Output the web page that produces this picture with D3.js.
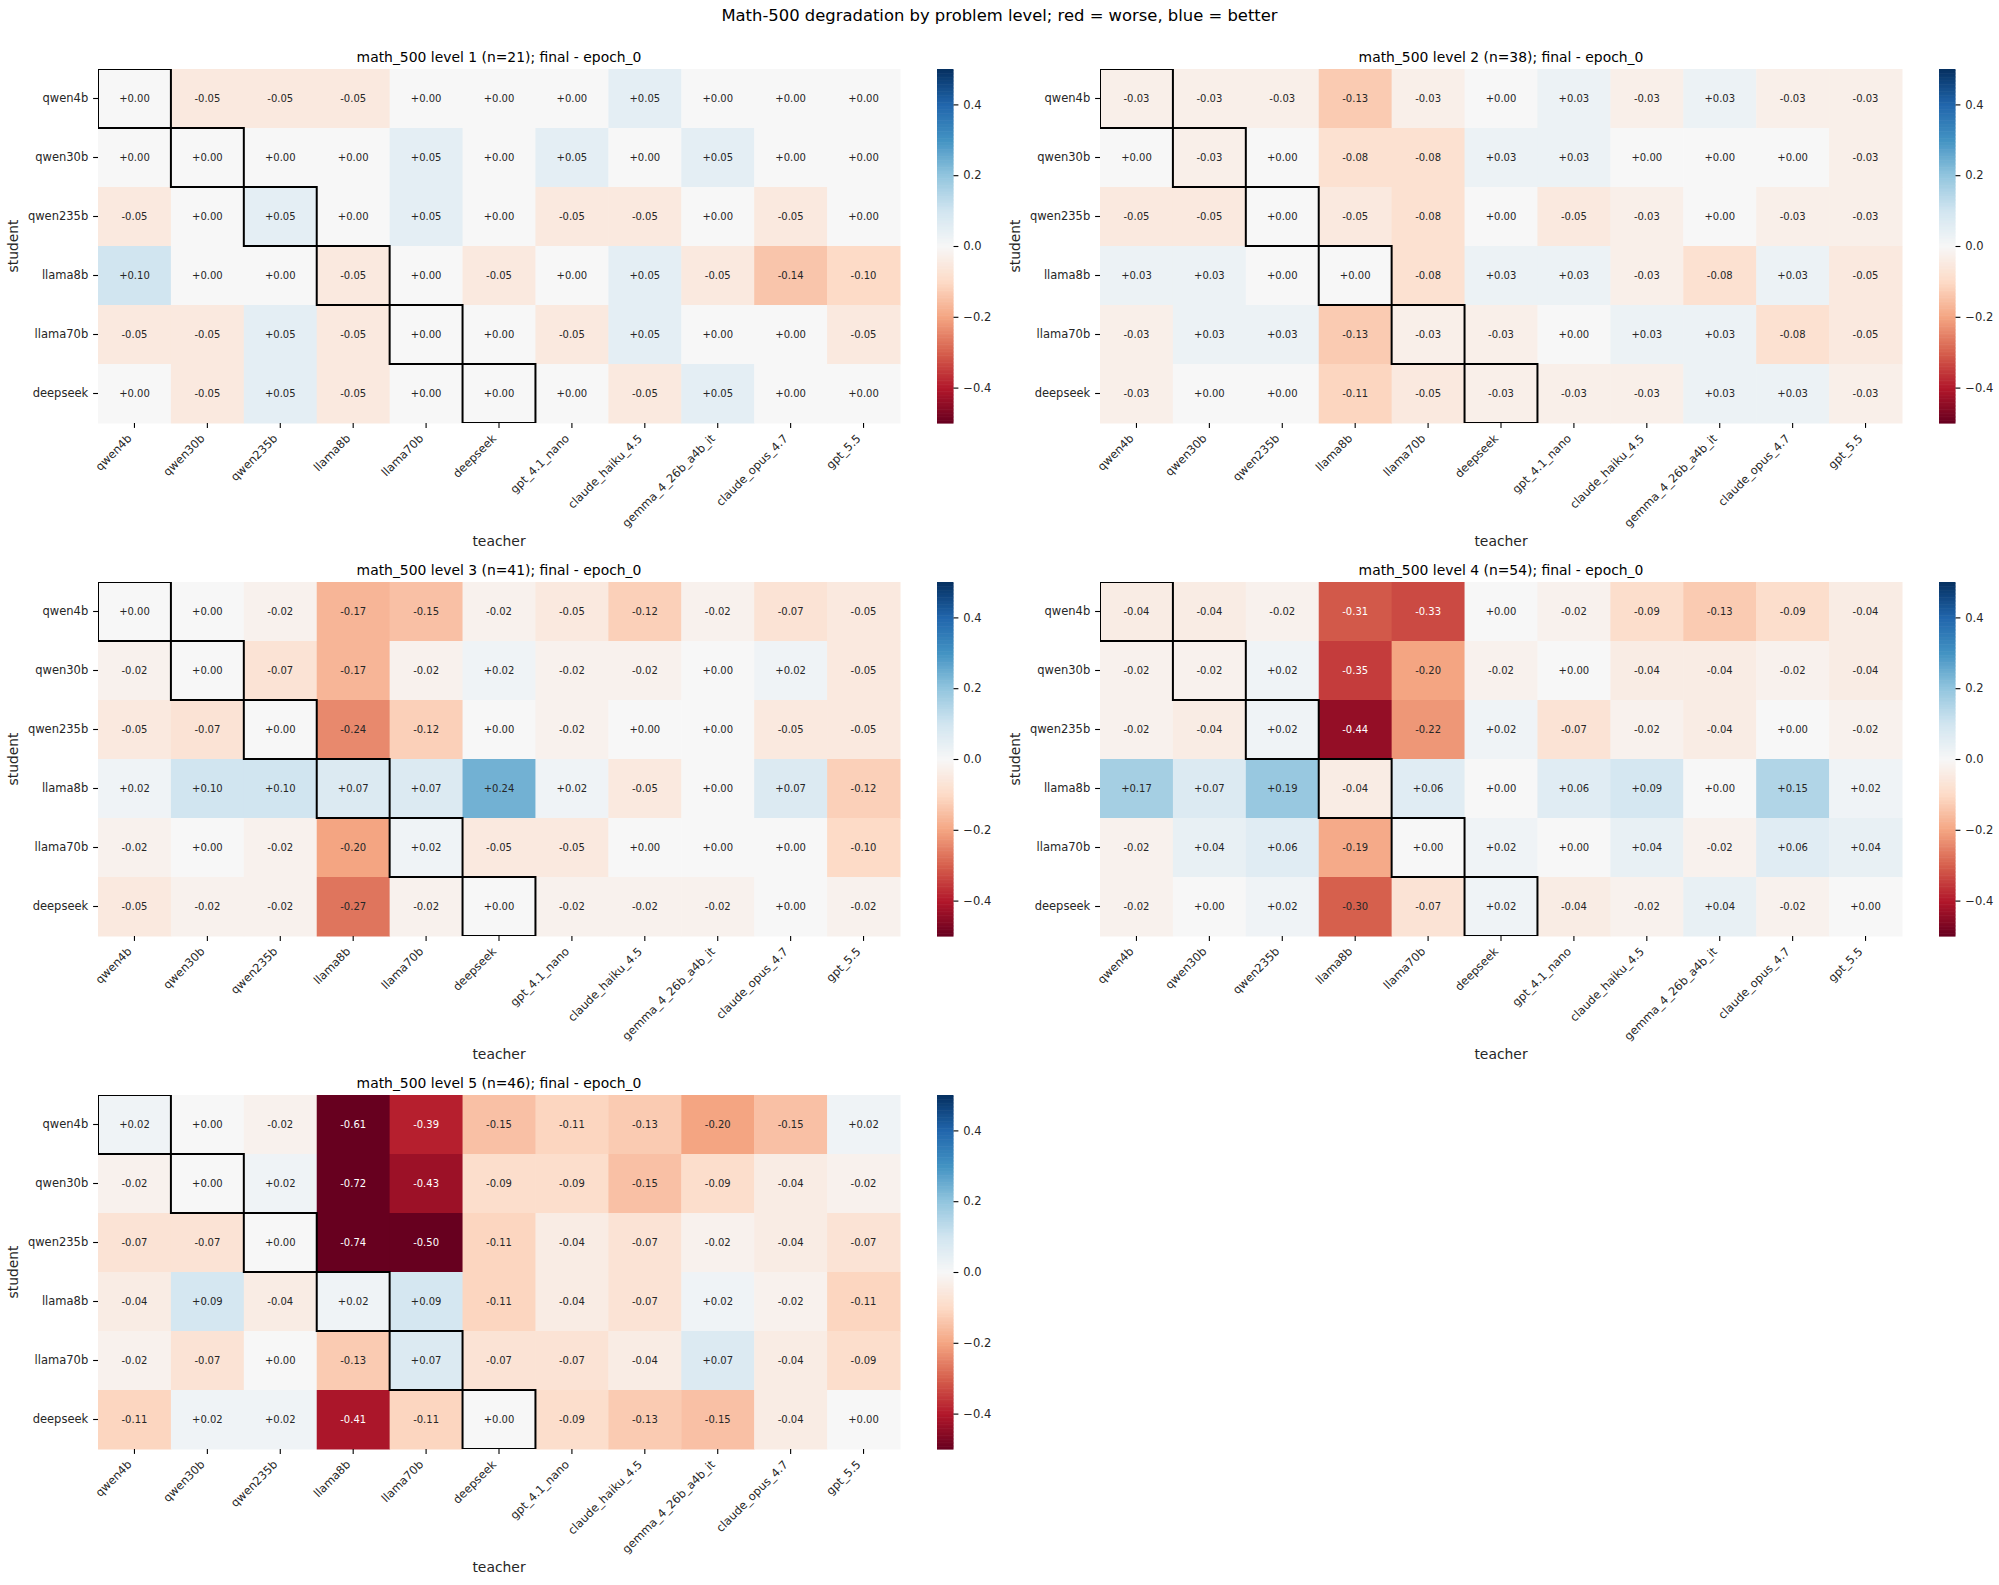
<!DOCTYPE html>
<html>
<head>
<meta charset="utf-8">
<script src="https://cdn.jsdelivr.net/npm/d3@7"></script>
<style>
  html, body { margin: 0; padding: 0; background: #fff; }
  svg { display: block; font-family: "DejaVu Sans", sans-serif; }
</style>
</head>
<body>
<svg id="chart" width="1999" height="1585"></svg>
<script>
// ---------------- data ----------------
const suptitle = "Math-500 degradation by problem level; red = worse, blue = better";
const teachers = ["qwen4b","qwen30b","qwen235b","llama8b","llama70b","deepseek","gpt_4.1_nano","claude_haiku_4.5","gemma_4_26b_a4b_it","claude_opus_4.7","gpt_5.5"];
const students = ["qwen4b","qwen30b","qwen235b","llama8b","llama70b","deepseek"];
const panelTitles = [
  "math_500 level 1 (n=21); final - epoch_0",
  "math_500 level 2 (n=38); final - epoch_0",
  "math_500 level 3 (n=41); final - epoch_0",
  "math_500 level 4 (n=54); final - epoch_0",
  "math_500 level 5 (n=46); final - epoch_0"
];
const level1 = [
  [ 0.00,-0.05,-0.05,-0.05, 0.00, 0.00, 0.00, 0.05, 0.00, 0.00, 0.00],
  [ 0.00, 0.00, 0.00, 0.00, 0.05, 0.00, 0.05, 0.00, 0.05, 0.00, 0.00],
  [-0.05, 0.00, 0.05, 0.00, 0.05, 0.00,-0.05,-0.05, 0.00,-0.05, 0.00],
  [ 0.10, 0.00, 0.00,-0.05, 0.00,-0.05, 0.00, 0.05,-0.05,-0.14,-0.10],
  [-0.05,-0.05, 0.05,-0.05, 0.00, 0.00,-0.05, 0.05, 0.00, 0.00,-0.05],
  [ 0.00,-0.05, 0.05,-0.05, 0.00, 0.00, 0.00,-0.05, 0.05, 0.00, 0.00]
];
const level2 = [
  [-0.03,-0.03,-0.03,-0.13,-0.03, 0.00, 0.03,-0.03, 0.03,-0.03,-0.03],
  [ 0.00,-0.03, 0.00,-0.08,-0.08, 0.03, 0.03, 0.00, 0.00, 0.00,-0.03],
  [-0.05,-0.05, 0.00,-0.05,-0.08, 0.00,-0.05,-0.03, 0.00,-0.03,-0.03],
  [ 0.03, 0.03, 0.00, 0.00,-0.08, 0.03, 0.03,-0.03,-0.08, 0.03,-0.05],
  [-0.03, 0.03, 0.03,-0.13,-0.03,-0.03, 0.00, 0.03, 0.03,-0.08,-0.05],
  [-0.03, 0.00, 0.00,-0.11,-0.05,-0.03,-0.03,-0.03, 0.03, 0.03,-0.03]
];
const level3 = [
  [ 0.00, 0.00,-0.02,-0.17,-0.15,-0.02,-0.05,-0.12,-0.02,-0.07,-0.05],
  [-0.02, 0.00,-0.07,-0.17,-0.02, 0.02,-0.02,-0.02, 0.00, 0.02,-0.05],
  [-0.05,-0.07, 0.00,-0.24,-0.12, 0.00,-0.02, 0.00, 0.00,-0.05,-0.05],
  [ 0.02, 0.10, 0.10, 0.07, 0.07, 0.24, 0.02,-0.05, 0.00, 0.07,-0.12],
  [-0.02, 0.00,-0.02,-0.20, 0.02,-0.05,-0.05, 0.00, 0.00, 0.00,-0.10],
  [-0.05,-0.02,-0.02,-0.27,-0.02, 0.00,-0.02,-0.02,-0.02, 0.00,-0.02]
];
const level4 = [
  [-0.04,-0.04,-0.02,-0.31,-0.33, 0.00,-0.02,-0.09,-0.13,-0.09,-0.04],
  [-0.02,-0.02, 0.02,-0.35,-0.20,-0.02, 0.00,-0.04,-0.04,-0.02,-0.04],
  [-0.02,-0.04, 0.02,-0.44,-0.22, 0.02,-0.07,-0.02,-0.04, 0.00,-0.02],
  [ 0.17, 0.07, 0.19,-0.04, 0.06, 0.00, 0.06, 0.09, 0.00, 0.15, 0.02],
  [-0.02, 0.04, 0.06,-0.19, 0.00, 0.02, 0.00, 0.04,-0.02, 0.06, 0.04],
  [-0.02, 0.00, 0.02,-0.30,-0.07, 0.02,-0.04,-0.02, 0.04,-0.02, 0.00]
];
const level5 = [
  [ 0.02, 0.00,-0.02,-0.61,-0.39,-0.15,-0.11,-0.13,-0.20,-0.15, 0.02],
  [-0.02, 0.00, 0.02,-0.72,-0.43,-0.09,-0.09,-0.15,-0.09,-0.04,-0.02],
  [-0.07,-0.07, 0.00,-0.74,-0.50,-0.11,-0.04,-0.07,-0.02,-0.04,-0.07],
  [-0.04, 0.09,-0.04, 0.02, 0.09,-0.11,-0.04,-0.07, 0.02,-0.02,-0.11],
  [-0.02,-0.07, 0.00,-0.13, 0.07,-0.07,-0.07,-0.04, 0.07,-0.04,-0.09],
  [-0.11, 0.02, 0.02,-0.41,-0.11, 0.00,-0.09,-0.13,-0.15,-0.04, 0.00]
];
const levels = [level1, level2, level3, level4, level5];
const colorbarTicks = [-0.4, -0.2, 0.0, 0.2, 0.4];
const vmin = -0.5, vmax = 0.5;

// ---------------- style / layout ----------------
const rdbu = ["#67001f","#b2182b","#d6604d","#f4a582","#fddbc7","#f7f7f7","#d1e5f0","#92c5de","#4393c3","#2166ac","#053061"];
const color = d3.scaleLinear()
  .domain(d3.range(rdbu.length).map(i => vmin + i * (vmax - vmin) / (rdbu.length - 1)))
  .range(rdbu).interpolate(d3.interpolateRgb).clamp(true);

const colX = [98, 1100];
const rowY = [69, 582, 1095];
const W = 802, H = 354;
const cbGap = 37, cbW = 16.5;
const tickLen = 4.9, tickPad = 4.9;
const tickFont = 11.5;
const textCol = "#262626";
const annFmt = d3.formatLocale({decimal: ".", thousands: ",", grouping: [3], currency: ["", ""], minus: "-"}).format("+.2f");
const cbFmt = d3.format(".1f");

const svg = d3.select("#chart");
svg.append("rect").attr("width", 1999).attr("height", 1585).attr("fill", "#fff");

svg.append("text")
  .attr("x", 999.5).attr("y", 21)
  .attr("text-anchor", "middle")
  .attr("font-size", 16.4)
  .attr("fill", "#000")
  .text(suptitle);

levels.forEach((data, k) => {
  const ox = colX[k % 2], oy = rowY[Math.floor(k / 2)];
  const g = svg.append("g").attr("transform", `translate(${ox},${oy})`);

  const x = d3.scaleBand().domain(teachers).range([0, W]).padding(0);
  const y = d3.scaleBand().domain(students).range([0, H]).padding(0);

  const cells = [];
  data.forEach((row, i) => row.forEach((v, j) => cells.push({s: students[i], t: teachers[j], v})));

  g.append("g").selectAll("rect").data(cells).join("rect")
    .attr("x", d => x(d.t)).attr("y", d => y(d.s))
    .attr("width", x.bandwidth() + 0.5).attr("height", y.bandwidth() + 0.5)
    .attr("fill", d => color(d.v));

  g.append("g").selectAll("text").data(cells).join("text")
    .attr("x", d => x(d.t) + x.bandwidth() / 2)
    .attr("y", d => y(d.s) + y.bandwidth() / 2)
    .attr("text-anchor", "middle")
    .attr("dominant-baseline", "central")
    .attr("font-size", 10)
    .attr("fill", d => Math.abs(d.v) > 0.3 ? "#ffffff" : textCol)
    .text(d => annFmt(d.v));

  // diagonal outlines (teacher == student)
  const clipId = "clip" + k;
  g.append("clipPath").attr("id", clipId)
    .append("rect").attr("width", W).attr("height", H);
  g.append("g").attr("clip-path", `url(#${clipId})`)
    .selectAll("rect").data(students.filter(s => teachers.includes(s))).join("rect")
    .attr("x", s => x(s)).attr("y", s => y(s))
    .attr("width", x.bandwidth()).attr("height", y.bandwidth())
    .attr("fill", "none").attr("stroke", "#000").attr("stroke-width", 2);

  // axes
  const xAxis = g.append("g").attr("transform", `translate(0,${H})`)
    .call(d3.axisBottom(x).tickSize(tickLen).tickPadding(tickPad));
  xAxis.select(".domain").remove();
  xAxis.selectAll(".tick line").attr("stroke", "#000").attr("stroke-width", 1.1);
  xAxis.selectAll(".tick text")
    .attr("x", 0).attr("y", 0).attr("dy", null)
    .attr("text-anchor", "end")
    .attr("transform", `translate(-2,${tickLen + tickPad + 6.4}) rotate(-45)`)
    .attr("font-size", tickFont).attr("font-family", "DejaVu Sans").attr("fill", textCol);

  const yAxis = g.append("g")
    .call(d3.axisLeft(y).tickSize(tickLen).tickPadding(tickPad));
  yAxis.select(".domain").remove();
  yAxis.selectAll(".tick line").attr("stroke", "#000").attr("stroke-width", 1.1);
  yAxis.selectAll(".tick text")
    .attr("font-size", tickFont).attr("font-family", "DejaVu Sans").attr("fill", textCol);

  // labels
  g.append("text")
    .attr("x", W / 2).attr("y", -7)
    .attr("text-anchor", "middle").attr("font-size", 13.9).attr("fill", "#000")
    .text(panelTitles[k]);
  g.append("text")
    .attr("x", W / 2).attr("y", H + 123)
    .attr("text-anchor", "middle").attr("font-size", 13.9).attr("fill", textCol)
    .text("teacher");
  g.append("text")
    .attr("transform", `translate(-80,${H / 2}) rotate(-90)`)
    .attr("text-anchor", "middle").attr("font-size", 13.9).attr("fill", textCol)
    .text("student");

  // colorbar
  const cb = g.append("g").attr("transform", `translate(${W + cbGap},0)`);
  const cy = d3.scaleLinear().domain([vmin, vmax]).range([H, 0]);
  const nSteps = 256;
  const steps = d3.range(nSteps).map(i => vmin + (i + 0.5) * (vmax - vmin) / nSteps);
  const stepH = H / nSteps;
  cb.selectAll("rect").data(steps).join("rect")
    .attr("x", 0).attr("y", d => cy(d) - stepH / 2)
    .attr("width", cbW).attr("height", stepH + 0.6)
    .attr("fill", d => color(d));
  const cbAxis = cb.append("g").attr("transform", `translate(${cbW},0)`)
    .call(d3.axisRight(cy).tickValues(colorbarTicks).tickFormat(cbFmt).tickSize(tickLen).tickPadding(tickPad));
  cbAxis.select(".domain").remove();
  cbAxis.selectAll(".tick line").attr("stroke", "#000").attr("stroke-width", 1.1);
  cbAxis.selectAll(".tick text")
    .attr("font-size", tickFont).attr("font-family", "DejaVu Sans").attr("fill", textCol);
});
</script>
</body>
</html>
